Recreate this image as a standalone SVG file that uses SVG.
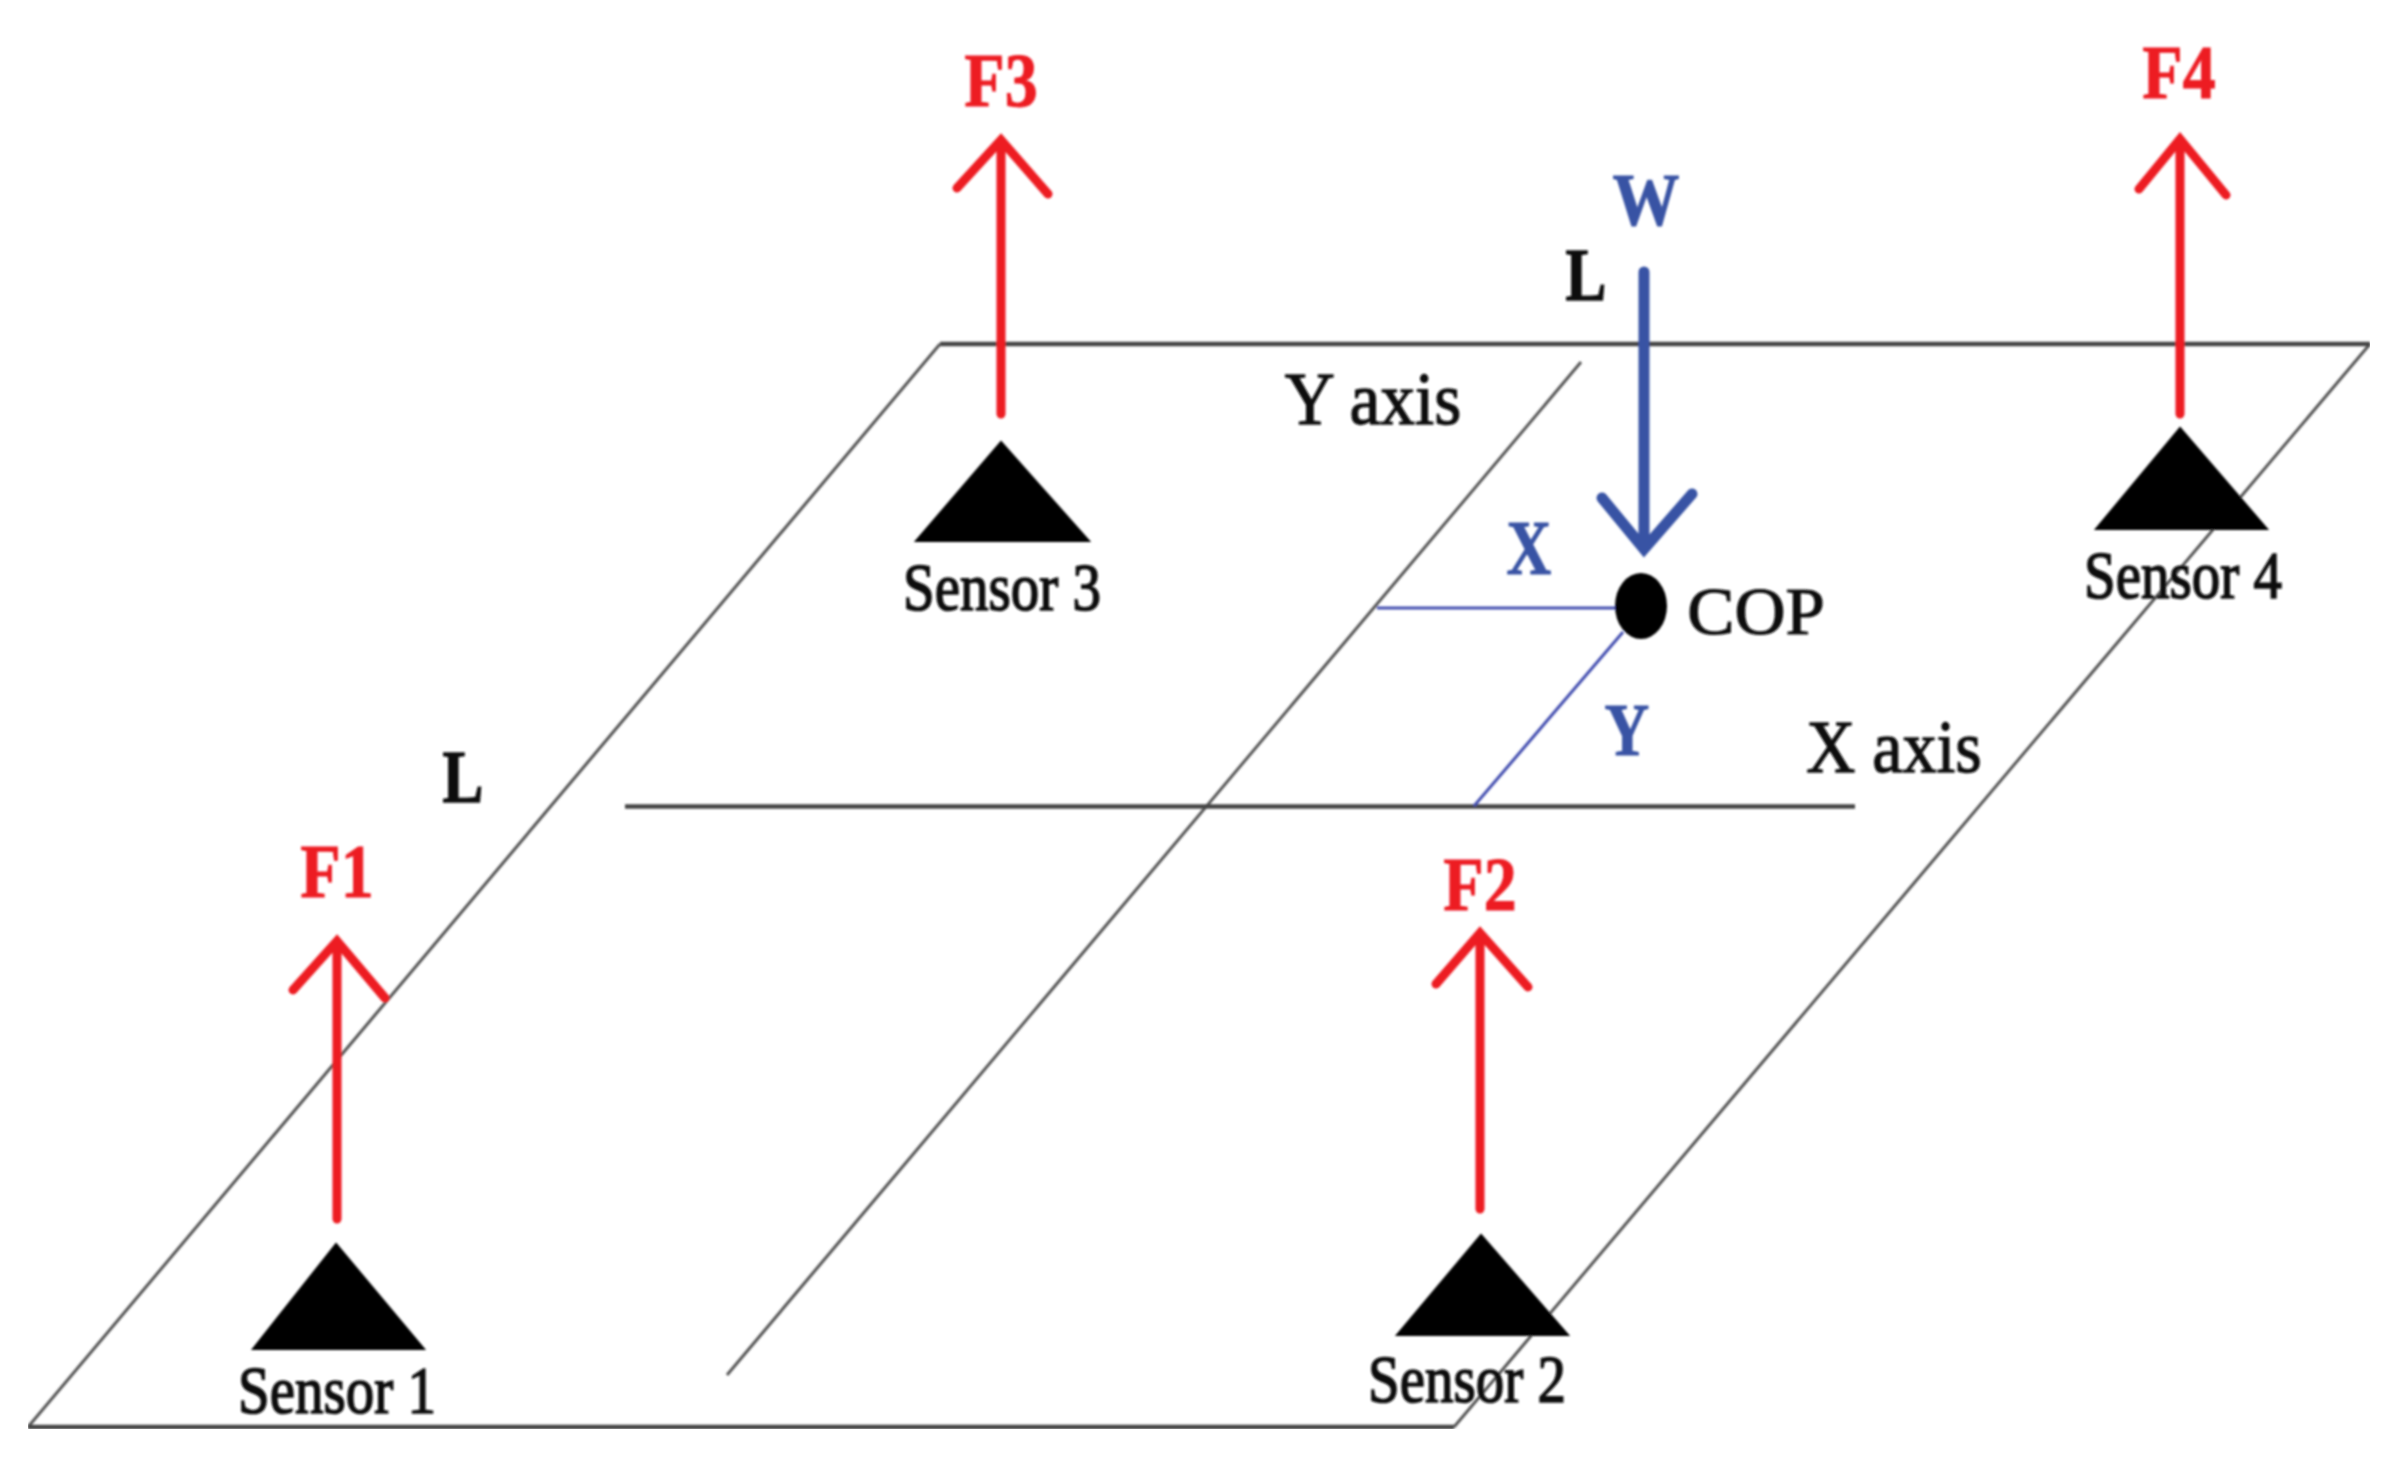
<svg xmlns="http://www.w3.org/2000/svg" width="2400" height="1473" viewBox="0 0 2400 1473">
<style>
text{font-family:"Liberation Serif","Times New Roman",serif;text-anchor:middle}
.plane{fill:none;stroke:#555;stroke-width:3}
.edge{fill:none;stroke:#444;stroke-width:4.5}
.axis{fill:none;stroke:#555;stroke-width:3}
.red{fill:none;stroke:#ed1c24;stroke-width:9;stroke-linecap:round;stroke-linejoin:miter}
.blue{fill:none;stroke:#3953a4;stroke-width:11;stroke-linecap:round;stroke-linejoin:miter}
.thin{fill:none;stroke:#4450b0;stroke-width:3}
.tri{fill:#040606;stroke:#040606;stroke-width:2;stroke-linejoin:miter}
.sensor{font-size:57px;fill:#111;stroke:#111;stroke-width:1.4}
.flab{font-size:66px;font-weight:bold;fill:#ed1c24;stroke:#ed1c24;stroke-width:.8}
.blab{font-size:62px;font-weight:bold;fill:#3953a4;stroke:#3953a4;stroke-width:.8}
.blk{font-size:68px;fill:#111;stroke:#111;stroke-width:1.2}
</style>
<defs><filter id="soft" x="0" y="0" width="100%" height="100%"><feGaussianBlur stdDeviation="1.1"/></filter></defs>
<rect width="2400" height="1473" fill="#fff"/>
<g filter="url(#soft)">
<g id="connectors">
<path class="plane" d="M28 1427L940 344M1454 1427L2370 344"/>
<path class="edge" d="M28 1427H1454M940 344H2370"/>
<path class="axis" d="M727 1375L1581 362"/>
<path class="edge" d="M625 806.500H1855"/>
<path class="thin" d="M1377 608H1620" stroke-width="4"/>
<path class="thin" d="M1623 632L1474 806"/>
<path class="red" d="M337 1219V944M293 990L337 941L385 998"/>
<path class="red" d="M1480 1209V936M1436 984L1480 933L1528 987"/>
<path class="red" d="M1001 414V143M957 188L1001 140L1048 194"/>
<path class="red" d="M2180 414V143M2139 189L2180 139L2226 195"/>
<path class="blue" d="M1644 272V545M1602 498L1644 549L1692 494"/>
</g>
<g id="sensor1"><polygon class="tri" points="336,1244 424,1349 253,1349"/><text class="sensor" transform="translate(337 1413) scale(1 1.2)">Sensor 1</text></g>
<g id="sensor2"><polygon class="tri" points="1481,1235 1568,1335 1397,1335"/><text class="sensor" transform="translate(1467 1402) scale(1 1.2)">Sensor 2</text></g>
<g id="sensor3"><polygon class="tri" points="1001,442 1089,541 916,541"/><text class="sensor" transform="translate(1002 610) scale(1 1.2)">Sensor 3</text></g>
<g id="sensor4"><polygon class="tri" points="2180,428 2267,529 2096,529"/><text class="sensor" transform="translate(2183 598) scale(1 1.2)">Sensor 4</text></g>
<g id="cop"><ellipse cx="1641" cy="606" rx="26" ry="33" fill="#040606"/><text class="blk" transform="translate(1756 634) scale(1.04 1)">COP</text></g>
<g id="labels">
<text class="flab" transform="translate(337 897) scale(1 1.15)">F1</text>
<text class="flab" transform="translate(1480 910) scale(1 1.15)">F2</text>
<text class="flab" transform="translate(1001 106) scale(1 1.15)">F3</text>
<text class="flab" transform="translate(2179 98) scale(1 1.15)">F4</text>
<text class="blab" transform="translate(1646 225) scale(1.08 1.2)">W</text>
<text class="blab" transform="translate(1529 574) scale(1 1.25)">X</text>
<text class="blab" transform="translate(1627 755) scale(1 1.2)">Y</text>
<text class="blk" font-weight="bold" transform="translate(1586 300) scale(.9 1.1)">L</text>
<text class="blk" font-weight="bold" transform="translate(463 802) scale(.9 1.1)">L</text>
<text class="blk" transform="translate(1373 424) scale(1.02 1.1)">Y axis</text>
<text class="blk" transform="translate(1894 772) scale(1 1.1)">X axis</text>
</g>
</g>
</svg>
